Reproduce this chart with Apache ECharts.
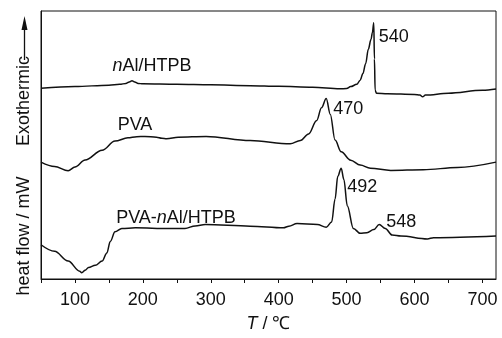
<!DOCTYPE html>
<html>
<head>
<meta charset="utf-8">
<script src="https://cdn.jsdelivr.net/npm/echarts@6/dist/echarts.min.js"></script>
<style>
  html, body { margin: 0; padding: 0; background: #fff; }
  #chart { width: 502px; height: 338px; }
</style>
</head>
<body>
<div id="chart"></div>
<script>
// DSC traces (heat flow, arbitrary offset units) versus temperature T / ℃
const tempAlHTPB = [50, 100, 150, 166, 175, 180, 184, 188, 193, 200, 250, 300, 358, 400, 450, 490, 500, 506, 515, 520, 524, 528, 532, 536, 538, 540, 541, 542, 544, 560, 600, 608, 612, 616, 650, 700, 720];
const flowAlHTPB = [195, 196.7, 198.2, 199, 200, 201.5, 202.7, 201.5, 200, 199.5, 199, 198.5, 197.7, 197, 196, 194.5, 194.7, 196.7, 199, 203.3, 210, 220, 235, 245, 252, 262, 225, 193, 190, 189.5, 188.7, 188, 186.3, 188, 190, 193, 194.3];

const tempPVA = [50, 70, 90, 100, 115, 140, 159, 178, 191, 203, 220, 228, 235, 252, 293, 358, 417, 432, 444, 456, 463, 470, 476, 483, 492, 506, 520, 535, 565, 613, 663, 720];
const flowPVA = [119.5, 115, 110.7, 114.5, 121.7, 131.7, 141, 144.3, 145.5, 145.7, 145, 144, 143.5, 145, 145.7, 141.5, 138.3, 141.7, 148.3, 162, 175, 184.5, 168.3, 142, 130, 121.5, 116.5, 113.3, 111, 111.7, 114, 119.5];

const tempPVAAl = [50, 70, 90, 107, 110, 115, 120, 130, 140, 147, 152, 159, 169, 189, 238, 262, 277, 292, 358, 407, 415, 427, 457, 470, 478, 483, 487, 492, 496, 501, 510, 520, 530, 540, 548, 557, 567, 580, 619, 628, 720];
const flowPVAAl = [35, 28.3, 18.3, 8, 6.5, 9, 11.7, 14, 18.3, 26.7, 38.3, 48.3, 51.7, 52.3, 51.7, 51.7, 54.3, 55.7, 54, 52.3, 54, 56.7, 55.7, 53, 58.3, 81.7, 105, 113.3, 101.7, 75, 51.7, 46.7, 47.3, 50.5, 55.7, 51.7, 45, 44, 41, 42.3, 44];

// Peak temperatures that get a label
const peaksAlHTPB = [540];
const peaksPVA = [470];
const peaksPVAAl = [492, 548];

const xTickStep = 50;
const xLabelStep = 100;

const FONT = "'Liberation Sans', Arial, sans-serif";
const FS = 18;

function pairs(ts, vs) { return ts.map((t, i) => [t, vs[i]]); }
function valueAt(ts, vs, t) { return vs[ts.indexOf(t)]; }

function peakMarks(ts, vs, peaks, offsets) {
  return {
    symbol: 'circle',
    symbolSize: 0,
    silent: true,
    data: peaks.map((t, i) => ({
      coord: [t, valueAt(ts, vs, t)],
      label: {
        show: true,
        position: 'right',
        distance: 5,
        offset: offsets[i],
        formatter: String(t),
        color: '#111',
        fontSize: FS,
        fontFamily: FONT
      }
    }))
  };
}

function curve(ts, vs, peaks, offsets) {
  return {
    type: 'line',
    data: pairs(ts, vs),
    showSymbol: false,
    smooth: 0.35,
    smoothMonotone: 'x',
    lineStyle: { color: '#111', width: 1.5 },
    markPoint: peakMarks(ts, vs, peaks, offsets),
    animation: false
  };
}

const chart = echarts.init(document.getElementById('chart'));
chart.setOption({
  animation: false,
  grid: { left: 41, right: 6, top: 11, bottom: 53, show: true, borderColor: '#111', borderWidth: 1, backgroundColor: 'transparent' },
  xAxis: {
    type: 'value',
    min: 50,
    max: 720,
    interval: xTickStep,
    axisLine: { show: true, lineStyle: { color: '#111', width: 1 } },
    axisTick: { show: true, inside: false, length: 4, lineStyle: { color: '#111' } },
    axisLabel: {
      margin: 12,
      color: '#111',
      fontSize: FS,
      fontFamily: FONT,
      showMaxLabel: false,
      formatter: v => (v % xLabelStep === 0 ? String(v) : '')
    },
    splitLine: { show: false },
    name: '{i|T} / ℃',
    nameLocation: 'middle',
    nameGap: 36,
    nameTextStyle: {
      color: '#111',
      fontSize: FS,
      fontFamily: FONT,
      rich: { i: { fontStyle: 'italic', fontSize: FS, fontFamily: FONT, color: '#111' } }
    }
  },
  yAxis: {
    type: 'value',
    min: 0,
    max: 274,
    axisLine: { show: true, lineStyle: { color: '#111', width: 1 } },
    axisTick: { show: false },
    axisLabel: { show: false },
    splitLine: { show: false }
  },
  series: [
    curve(tempAlHTPB, flowAlHTPB, peaksAlHTPB, [[0, 14]]),
    curve(tempPVA, flowPVA, peaksPVA, [[2, 10]]),
    curve(tempPVAAl, flowPVAAl, peaksPVAAl, [[1, 19], [2, -2]])
  ],
  graphic: [
    {
      type: 'text', x: 152, y: 66,
      style: {
        text: '{i|n}Al/HTPB', fill: '#111', fontSize: FS, fontFamily: FONT,
        align: 'center', verticalAlign: 'middle',
        rich: { i: { fontStyle: 'italic', fontSize: FS, fontFamily: FONT, fill: '#111' } }
      }
    },
    {
      type: 'text', x: 135, y: 125,
      style: { text: 'PVA', fill: '#111', fontSize: FS, fontFamily: FONT, align: 'center', verticalAlign: 'middle' }
    },
    {
      type: 'text', x: 176, y: 218,
      style: {
        text: 'PVA-{i|n}Al/HTPB', fill: '#111', fontSize: FS, fontFamily: FONT,
        align: 'center', verticalAlign: 'middle',
        rich: { i: { fontStyle: 'italic', fontSize: FS, fontFamily: FONT, fill: '#111' } }
      }
    },
    {
      type: 'text', x: 24, y: 236, rotation: Math.PI / 2,
      style: { text: 'heat flow / mW', fill: '#111', fontSize: FS, fontFamily: FONT, align: 'center', verticalAlign: 'middle' }
    },
    {
      type: 'text', x: 24, y: 101, rotation: Math.PI / 2,
      style: { text: 'Exothermic', fill: '#111', fontSize: FS, fontFamily: FONT, align: 'center', verticalAlign: 'middle' }
    },
    {
      type: 'line',
      shape: { x1: 24.5, y1: 60, x2: 24.5, y2: 26 },
      style: { stroke: '#111', lineWidth: 1.3 }
    },
    {
      type: 'polygon',
      shape: { points: [[24.5, 16], [21.5, 30], [27.5, 30]] },
      style: { fill: '#111' }
    }
  ]
});
</script>
</body>
</html>
